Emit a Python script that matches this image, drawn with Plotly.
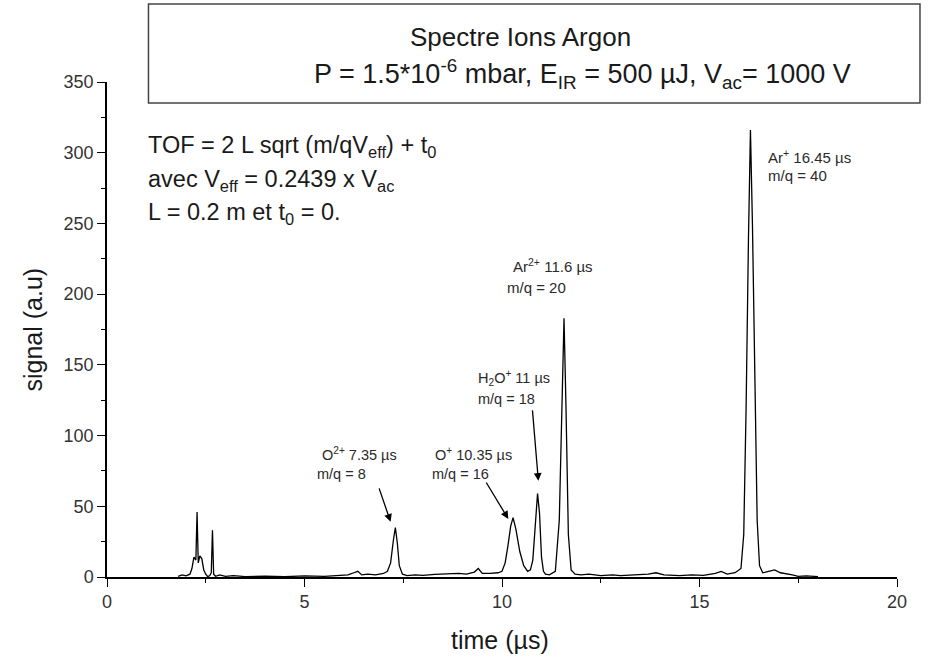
import plotly.graph_objects as go

# ---- data ----
time_us = [1.80, 1.90, 2.00, 2.10, 2.15, 2.20, 2.25, 2.28, 2.31, 2.35, 2.40, 2.45, 2.50, 2.55,
           2.60, 2.64, 2.67, 2.70, 2.75, 2.85, 3.00, 3.20, 3.50, 4.00, 4.50, 5.00, 5.50, 5.90,
           6.10, 6.25, 6.35, 6.45, 6.60, 6.80, 7.00, 7.10, 7.18, 7.25, 7.30, 7.35, 7.40, 7.48,
           7.60, 7.80, 8.00, 8.30, 8.60, 8.90, 9.10, 9.30, 9.40, 9.50, 9.70, 9.90, 10.00, 10.08,
           10.15, 10.22, 10.28, 10.35, 10.45, 10.55, 10.65, 10.72, 10.78, 10.84, 10.90, 10.95,
           11.00, 11.05, 11.10, 11.20, 11.35, 11.45, 11.52, 11.57, 11.62, 11.68, 11.75, 11.85,
           12.00, 12.20, 12.50, 12.80, 13.00, 13.30, 13.70, 13.90, 14.10, 14.50, 14.80, 15.10,
           15.40, 15.55, 15.70, 15.90, 16.05, 16.12, 16.18, 16.24, 16.29, 16.34, 16.40, 16.46,
           16.52, 16.60, 16.75, 16.90, 17.05, 17.20, 17.35, 17.50, 17.70, 18.00]
signal = [0.5, 1.5, 0.8, 2.0, 6, 14, 12, 46, 10, 15, 13, 5, 2, 0.2,
          1, 3, 33, 2, 0.5, 1.5, 0.5, 1.0, 0.3, 0.6, 0.2, 0.8, 0.5, 1.2,
          1.5, 3, 4, 1.5, 2, 1.5, 2.5, 4, 10, 26, 35, 24, 8, 2,
          1, 1.5, 1.2, 1.8, 2, 2.5, 2, 3.5, 6, 2.5, 2.5, 3, 4, 10,
          22, 36, 42, 34, 18, 8, 4, 5, 12, 35, 59, 45,
          14, 4, 2, 1.5, 4, 40, 130, 183, 120, 30, 5, 2,
          1.5, 2, 1, 1.5, 1, 1.5, 2, 3, 1.5, 1, 1.5, 1.2,
          2.5, 4, 2, 3, 6, 30, 120, 240, 316, 250, 130, 40,
          8, 3, 4, 5, 3, 2.5, 1.5, 0.5, 0.8, 0.3]

x_ticks = [0, 5, 10, 15, 20]
y_ticks = [0, 50, 100, 150, 200, 250, 300, 350]

FONT = "Arial, Liberation Sans, sans-serif"

# plot-area geometry (pixels)
L, R, T, B = 106.5, 897, 82, 577
W, H = 933, 664


def px(xp):
    return (xp - L) / (R - L)


def py(yp):
    return (B - yp) / (B - T)


fig = go.Figure()
fig.add_trace(go.Scatter(x=time_us, y=signal, mode="lines",
                         line=dict(color="black", width=1.3), showlegend=False))

annotations = []


def text(xp, yp, s, size, anchor="left", angle=0, color="#1a1a1a"):
    annotations.append(dict(x=px(xp), y=py(yp), xref="paper", yref="paper", text=s,
                            showarrow=False, xanchor=anchor, yanchor="middle",
                            textangle=angle,
                            font=dict(family=FONT, size=size, color=color)))


# title box
text(520, 37, "Spectre Ions Argon", 26, "center")
text(312, 74, "P = 1.5*10<sup>-6</sup> mbar, E<sub>IR</sub> = 500 µJ, V<sub>ac</sub>= 1000 V", 27)

# formula
text(146, 146, "TOF = 2 L sqrt (m/qV<sub>eff</sub>) + t<sub>0</sub>", 23.5)
text(146, 181, "avec V<sub>eff</sub> = 0.2439 x V<sub>ac</sub>", 23.5)
text(146, 213, "L = 0.2 m et t<sub>0</sub> = 0.", 23.5)

# peak labels
lab = "#2a2a2a"
text(766, 156, "Ar<sup>+</sup> 16.45 µs", 15, color=lab)
text(766, 175, "m/q = 40", 15, color=lab)
text(511, 265, "Ar<sup>2+</sup> 11.6 µs", 15, color=lab)
text(505, 287, "m/q = 20", 15, color=lab)
text(476, 378, "H<sub>2</sub>O<sup>+</sup> 11 µs", 14.5, color=lab)
text(476, 399, "m/q = 18", 14.5, color=lab)
text(433, 454, "O<sup>+</sup> 10.35 µs", 14.5, color=lab)
text(430, 474, "m/q = 16", 14.5, color=lab)
text(320, 454, "O<sup>2+</sup> 7.35 µs", 14.5, color=lab)
text(315, 474, "m/q = 8", 14.5, color=lab)

# axis titles
text(500, 640, "time (µs)", 25, "center")
text(32, 330, "signal (a.u)", 25, "center", angle=-90)

# arrows (head in data coordinates, tail offset in pixels)
for hx, hy, ax, ay in [(7.18, 39, -12, -35), (10.16, 41, -23, -38), (10.92, 68, -6, -72)]:
    annotations.append(dict(x=hx, y=hy, xref="x", yref="y", ax=ax, ay=ay, axref="pixel",
                            ayref="pixel", text="", showarrow=True, arrowhead=2,
                            arrowsize=1.2, arrowwidth=1.3, arrowcolor="black"))

fig.update_layout(
    width=W, height=H,
    margin=dict(l=L, r=W - R, t=T, b=H - B, pad=0),
    paper_bgcolor="white", plot_bgcolor="white",
    font=dict(family=FONT, color="#222"),
    annotations=annotations,
    shapes=[dict(type="rect", xref="paper", yref="paper",
                 x0=px(148), x1=px(920), y0=py(103), y1=py(4),
                 line=dict(color="#444", width=1.5), fillcolor="rgba(0,0,0,0)")],
    xaxis=dict(range=[0, 20], tickvals=x_ticks, ticks="outside", ticklen=8,
               tickcolor="black", tickwidth=1.3, showline=True, linecolor="black",
               linewidth=1.5, showgrid=False, zeroline=False,
               tickfont=dict(size=18, color="#333"),
               minor=dict(dtick=2.5, ticks="outside", ticklen=4, tickcolor="black")),
    yaxis=dict(range=[0, 350], tickvals=y_ticks, ticks="outside", ticklen=8,
               tickcolor="black", tickwidth=1.3, showline=True, linecolor="black",
               linewidth=1.5, showgrid=False, zeroline=False,
               tickfont=dict(size=18, color="#333"),
               minor=dict(dtick=25, ticks="outside", ticklen=4, tickcolor="black")),
)

fig.write_html("out.html")
